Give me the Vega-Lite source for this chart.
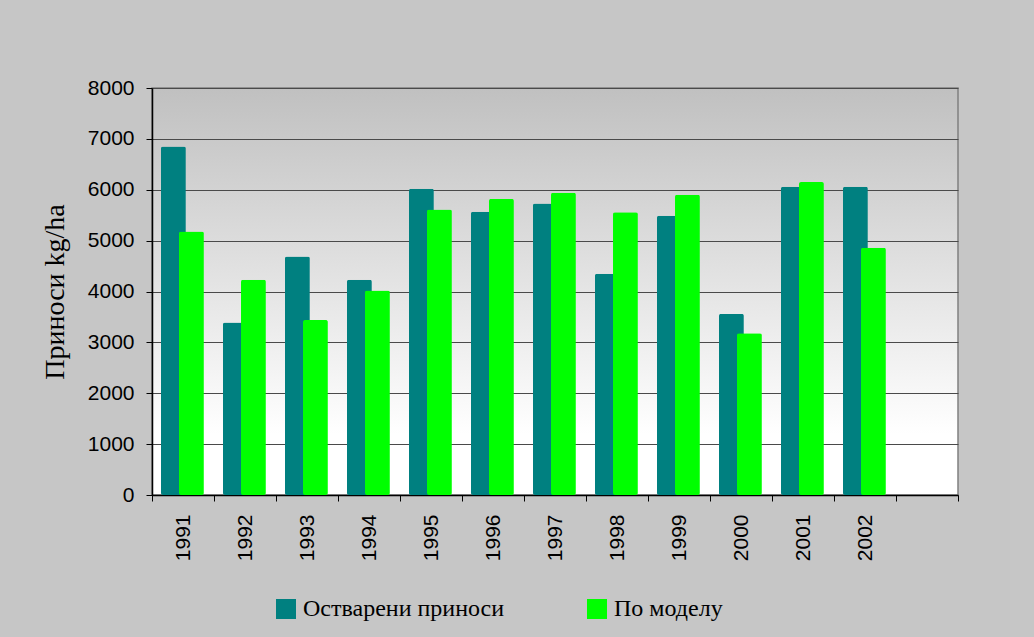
{
  "$schema": "https://vega.github.io/schema/vega-lite/v6.json",
  "width": 806,
  "height": 407,
  "autosize": {"type": "none"},
  "padding": {"left": 152, "top": 88, "right": 76, "bottom": 142},
  "background": "#c6c6c6",
  "data": {
    "values": [
      {"year": "1991", "series": "Остварени приноси", "value": 6850},
      {"year": "1991", "series": "По моделу", "value": 5180},
      {"year": "1992", "series": "Остварени приноси", "value": 3390},
      {"year": "1992", "series": "По моделу", "value": 4230},
      {"year": "1993", "series": "Остварени приноси", "value": 4690},
      {"year": "1993", "series": "По моделу", "value": 3440},
      {"year": "1994", "series": "Остварени приноси", "value": 4230},
      {"year": "1994", "series": "По моделу", "value": 4020},
      {"year": "1995", "series": "Остварени приноси", "value": 6020},
      {"year": "1995", "series": "По моделу", "value": 5610},
      {"year": "1996", "series": "Остварени приноси", "value": 5570},
      {"year": "1996", "series": "По моделу", "value": 5820},
      {"year": "1997", "series": "Остварени приноси", "value": 5730},
      {"year": "1997", "series": "По моделу", "value": 5940},
      {"year": "1998", "series": "Остварени приноси", "value": 4350},
      {"year": "1998", "series": "По моделу", "value": 5560},
      {"year": "1999", "series": "Остварени приноси", "value": 5490},
      {"year": "1999", "series": "По моделу", "value": 5900},
      {"year": "2000", "series": "Остварени приноси", "value": 3560},
      {"year": "2000", "series": "По моделу", "value": 3180},
      {"year": "2001", "series": "Остварени приноси", "value": 6060},
      {"year": "2001", "series": "По моделу", "value": 6150},
      {"year": "2002", "series": "Остварени приноси", "value": 6060},
      {"year": "2002", "series": "По моделу", "value": 4860}
    ]
  },
  "mark": {"type": "bar", "width": {"band": 1.38}, "cornerRadius": 2},
  "encoding": {
    "x": {
      "field": "year",
      "type": "nominal",
      "scale": {
        "domain": ["1991","1992","1993","1994","1995","1996","1997","1998","1999","2000","2001","2002",""],
        "paddingInner": 0,
        "paddingOuter": 0
      },
      "axis": {
        "title": null,
        "labelAngle": -90,
        "labelAlign": "right",
        "labelBaseline": "middle",
        "labelFont": "Liberation Sans",
        "labelFontSize": 21,
        "labelColor": "#000000",
        "labelPadding": 13,
        "tickBand": "extent",
        "tickSize": 6,
        "tickColor": "#000000",
        "domainColor": "#000000",
        "domainWidth": 1.5,
        "grid": false
      }
    },
    "xOffset": {
      "field": "series",
      "type": "nominal",
      "sort": ["Остварени приноси", "По моделу"],
      "scale": {"paddingInner": 0, "paddingOuter": 0.72, "align": 0.8}
    },
    "y": {
      "field": "value",
      "type": "quantitative",
      "scale": {"domain": [0, 8000], "nice": false},
      "axis": {
        "title": "Приноси kg/ha",
        "titleFont": "Liberation Serif",
        "titleFontSize": 28,
        "titleFontWeight": "normal",
        "titleColor": "#000000",
        "titlePadding": 18,
        "values": [0,1000,2000,3000,4000,5000,6000,7000,8000],
        "format": "d",
        "labelFont": "Liberation Sans",
        "labelFontSize": 21,
        "labelColor": "#000000",
        "labelPadding": 12,
        "tickSize": 6,
        "tickColor": "#000000",
        "domainColor": "#000000",
        "domainWidth": 1.5,
        "gridColor": "#4a4a4a",
        "gridWidth": 1.2
      }
    },
    "color": {
      "field": "series",
      "type": "nominal",
      "sort": ["Остварени приноси", "По моделу"],
      "scale": {
        "domain": ["Остварени приноси", "По моделу"],
        "range": ["#008080", "#00ff00"]
      },
      "legend": {
        "title": null,
        "orient": "none",
        "direction": "horizontal",
        "legendX": 122,
        "legendY": 509,
        "symbolType": "square",
        "symbolSize": 400,
        "symbolStrokeWidth": 0,
        "symbolOpacity": 1,
        "labelFont": "Liberation Serif",
        "labelFontSize": 24,
        "labelColor": "#000000",
        "labelOffset": 5,
        "columnPadding": 80,
        "labelLimit": 400
      }
    }
  },
  "config": {
    "view": {
      "fill": {
        "gradient": "linear",
        "x1": 0, "y1": 0, "x2": 0, "y2": 1,
        "stops": [
          {"offset": 0, "color": "#c0c0c0"},
          {"offset": 0.85, "color": "#ffffff"},
          {"offset": 1, "color": "#ffffff"}
        ]
      },
      "stroke": "#808080",
      "strokeWidth": 1.5
    }
  }
}
